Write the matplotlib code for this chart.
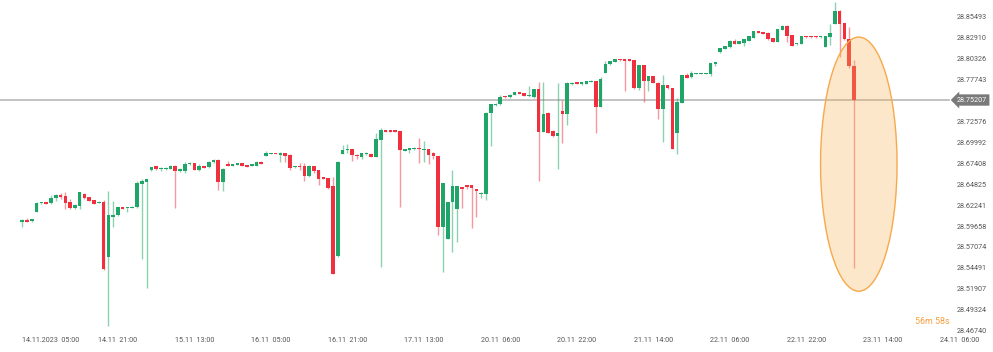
import numpy as np
import matplotlib
matplotlib.use("Agg")
import matplotlib.pyplot as plt
from matplotlib.patches import Ellipse
from matplotlib.transforms import ScaledTranslation, blended_transform_factory

plt.rcParams['font.family'] = ['Roboto', 'DejaVu Sans']

# ── Hourly candles ──────────────────────────────────────────────────────────
opens = [
    28.6012, 28.6040, 28.6028, 28.6143, 28.6246, 28.6262, 28.6246, 28.6308, 28.6349, 28.6336,
    28.6262, 28.6192, 28.6217, 28.6357, 28.6320, 28.6287, 28.6246, 28.6262, 28.5587, 28.6081,
    28.6098, 28.6197, 28.6184, 28.6188, 28.6197, 28.6481, 28.6505, 28.6657, 28.6707, 28.6666,
    28.6666, 28.6673, 28.6707, 28.6641, 28.6651, 28.6727, 28.6740, 28.6657, 28.6703, 28.6690,
    28.6752, 28.6784, 28.6513, 28.6731, 28.6710, 28.6722, 28.6744, 28.6719, 28.6710, 28.6707,
    28.6760, 28.6830, 28.6855, 28.6867, 28.6846, 28.6863, 28.6846, 28.6690, 28.6707, 28.6707,
    28.6587, 28.6707, 28.6653, 28.6567, 28.6559, 28.6456, 28.5592, 28.6855, 28.6900, 28.6916,
    28.6846, 28.6822, 28.6851, 28.6858, 28.6822, 28.7027, 28.7151, 28.7151, 28.7147, 28.7138,
    28.6895, 28.6904, 28.6913, 28.6933, 28.6904, 28.6913, 28.6863, 28.6830, 28.5950, 28.5802,
    28.6266, 28.6180, 28.6447, 28.6468, 28.6468, 28.6423, 28.6361, 28.6361, 28.7357, 28.7456,
    28.7468, 28.7567, 28.7554, 28.7583, 28.7616, 28.7604, 28.7567, 28.7554, 28.7660, 28.7130,
    28.7364, 28.7138, 28.7080, 28.7385, 28.7345, 28.7715, 28.7739, 28.7722, 28.7718, 28.7743,
    28.7755, 28.7438, 28.7858, 28.7962, 28.7990, 28.8027, 28.8023, 28.8023, 28.8011, 28.7669,
    28.7949, 28.7755, 28.7817, 28.7735, 28.7414, 28.7706, 28.7669, 28.7117, 28.7488, 28.7830,
    28.7801, 28.7846, 28.7846, 28.7846, 28.7838, 28.7965, 28.8110, 28.8150, 28.8171, 28.8249,
    28.8212, 28.8228, 28.8253, 28.8290, 28.8369, 28.8356, 28.8351, 28.8286, 28.8237, 28.8385,
    28.8430, 28.8323, 28.8208, 28.8216, 28.8311, 28.8311, 28.8311, 28.8295, 28.8179, 28.8302,
    28.8459, 28.8623, 28.8467, 28.8274, 28.7944,
]
highs = [
    28.6049, 28.6061, 28.6058, 28.6259, 28.6266, 28.6268, 28.6349, 28.6357, 28.6370, 28.6382,
    28.6296, 28.6234, 28.6389, 28.6377, 28.6324, 28.6293, 28.6278, 28.6287, 28.6402, 28.6275,
    28.6204, 28.6201, 28.6201, 28.6209, 28.6521, 28.6542, 28.6552, 28.6700, 28.6710, 28.6690,
    28.6690, 28.6713, 28.6713, 28.6676, 28.6752, 28.6750, 28.6744, 28.6731, 28.6707, 28.6764,
    28.6789, 28.6789, 28.6678, 28.6764, 28.6737, 28.6747, 28.6747, 28.6722, 28.6735, 28.6768,
    28.6764, 28.6892, 28.6871, 28.6871, 28.6876, 28.6867, 28.6851, 28.6710, 28.6740, 28.6740,
    28.6713, 28.6710, 28.6657, 28.6571, 28.6562, 28.6567, 28.6764, 28.6966, 28.6978, 28.6922,
    28.6851, 28.6867, 28.6883, 28.6863, 28.7117, 28.7172, 28.7155, 28.7155, 28.7151, 28.7142,
    28.6920, 28.6929, 28.6937, 28.7048, 28.7015, 28.6916, 28.6876, 28.6834, 28.6493, 28.6266,
    28.6657, 28.6463, 28.6451, 28.6472, 28.6472, 28.6426, 28.6390, 28.7369, 28.7472, 28.7478,
    28.7583, 28.7570, 28.7595, 28.7623, 28.7620, 28.7607, 28.7694, 28.7657, 28.7747, 28.7747,
    28.7369, 28.7151, 28.7727, 28.7521, 28.7739, 28.7739, 28.7743, 28.7747, 28.7759, 28.7762,
    28.7759, 28.7801, 28.8002, 28.8002, 28.8031, 28.8031, 28.8027, 28.8027, 28.8015, 28.7957,
    28.7953, 28.7821, 28.7821, 28.7739, 28.7830, 28.7710, 28.7673, 28.7549, 28.7833, 28.7858,
    28.7879, 28.7854, 28.7854, 28.7854, 28.7978, 28.7994, 28.8163, 28.8187, 28.8261, 28.8270,
    28.8249, 28.8277, 28.8314, 28.8372, 28.8372, 28.8360, 28.8356, 28.8290, 28.8397, 28.8447,
    28.8447, 28.8327, 28.8228, 28.8314, 28.8314, 28.8314, 28.8314, 28.8314, 28.8314, 28.8455,
    28.8734, 28.8628, 28.8471, 28.8426, 28.8015,
]
lows = [
    28.5957, 28.6015, 28.6015, 28.6139, 28.6234, 28.6238, 28.6238, 28.6278, 28.6296, 28.6180,
    28.6172, 28.6180, 28.6180, 28.6303, 28.6275, 28.6238, 28.6244, 28.5427, 28.4736, 28.5950,
    28.6090, 28.6176, 28.6135, 28.6184, 28.6192, 28.5555, 28.5201, 28.6651, 28.6661, 28.6649,
    28.6661, 28.6670, 28.6185, 28.6636, 28.6616, 28.6722, 28.6653, 28.6641, 28.6678, 28.6686,
    28.6747, 28.6410, 28.6402, 28.6707, 28.6707, 28.6719, 28.6703, 28.6694, 28.6706, 28.6703,
    28.6727, 28.6826, 28.6851, 28.6851, 28.6760, 28.6752, 28.6657, 28.6686, 28.6657, 28.6525,
    28.6575, 28.6616, 28.6468, 28.6546, 28.6426, 28.5374, 28.5587, 28.6851, 28.6863, 28.6764,
    28.6797, 28.6797, 28.6846, 28.6818, 28.6818, 28.5464, 28.7126, 28.7126, 28.7126, 28.6204,
    28.6892, 28.6871, 28.6908, 28.6740, 28.6760, 28.6731, 28.6797, 28.5855, 28.5402, 28.5802,
    28.5642, 28.5765, 28.6185, 28.6419, 28.5938, 28.6074, 28.6315, 28.6287, 28.6957, 28.7451,
    28.7463, 28.7549, 28.7546, 28.7579, 28.7595, 28.7570, 28.7562, 28.7549, 28.6525, 28.7126,
    28.7114, 28.7061, 28.6673, 28.6994, 28.7213, 28.7710, 28.7715, 28.7712, 28.7715, 28.7739,
    28.7117, 28.7435, 28.7854, 28.7957, 28.7986, 28.8006, 28.7636, 28.8002, 28.7657, 28.7644,
    28.7500, 28.7636, 28.7731, 28.7287, 28.7006, 28.7660, 28.6913, 28.6851, 28.7484, 28.7792,
    28.7796, 28.7842, 28.7842, 28.7842, 28.7817, 28.7941, 28.8097, 28.8147, 28.8166, 28.8212,
    28.8208, 28.8191, 28.8249, 28.8286, 28.8344, 28.8335, 28.8265, 28.8233, 28.8233, 28.8381,
    28.8240, 28.8187, 28.8203, 28.8212, 28.8290, 28.8290, 28.8290, 28.8290, 28.8175, 28.8200,
    28.8455, 28.8055, 28.8261, 28.7920, 28.5444,
]
closes = [
    28.6040, 28.6019, 28.6052, 28.6254, 28.6262, 28.6241, 28.6315, 28.6349, 28.6328, 28.6254,
    28.6192, 28.6225, 28.6382, 28.6315, 28.6278, 28.6241, 28.6262, 28.5432, 28.6098, 28.6102,
    28.6197, 28.6180, 28.6197, 28.6204, 28.6497, 28.6525, 28.6542, 28.6690, 28.6666, 28.6682,
    28.6682, 28.6707, 28.6641, 28.6670, 28.6731, 28.6744, 28.6657, 28.6707, 28.6686, 28.6760,
    28.6784, 28.6513, 28.6670, 28.6710, 28.6731, 28.6744, 28.6707, 28.6698, 28.6731, 28.6760,
    28.6735, 28.6871, 28.6867, 28.6855, 28.6863, 28.6830, 28.6686, 28.6707, 28.6690, 28.6587,
    28.6707, 28.6649, 28.6550, 28.6550, 28.6431, 28.5378, 28.6760, 28.6904, 28.6920, 28.6842,
    28.6826, 28.6863, 28.6867, 28.6822, 28.7040, 28.7151, 28.7130, 28.7130, 28.7130, 28.6904,
    28.6916, 28.6925, 28.6933, 28.6913, 28.6920, 28.6842, 28.6830, 28.5950, 28.6493, 28.6262,
    28.6460, 28.6460, 28.6423, 28.6447, 28.6435, 28.6398, 28.6373, 28.7364, 28.7468, 28.7472,
    28.7558, 28.7554, 28.7583, 28.7616, 28.7599, 28.7574, 28.7583, 28.7653, 28.7130, 28.7348,
    28.7117, 28.7080, 28.7110, 28.7345, 28.7735, 28.7735, 28.7718, 28.7743, 28.7755, 28.7755,
    28.7438, 28.7776, 28.7962, 28.7999, 28.8027, 28.8011, 28.8006, 28.8006, 28.7669, 28.7953,
    28.7759, 28.7817, 28.7734, 28.7414, 28.7706, 28.7665, 28.6920, 28.7500, 28.7830, 28.7796,
    28.7850, 28.7850, 28.7850, 28.7850, 28.7974, 28.7990, 28.8159, 28.8184, 28.8245, 28.8216,
    28.8245, 28.8274, 28.8311, 28.8369, 28.8348, 28.8339, 28.8270, 28.8237, 28.8393, 28.8430,
    28.8314, 28.8191, 28.8224, 28.8311, 28.8295, 28.8295, 28.8295, 28.8311, 28.8311, 28.8348,
    28.8623, 28.8459, 28.8274, 28.7941, 28.7521,
]

# ── Axis labels ─────────────────────────────────────────────────────────────
time_tick_idx = [4, 20, 36, 52, 68, 84, 100, 116, 132, 148, 164, 180, 196]
time_labels = ["14.11.2023  05:00", "14.11  21:00", "15.11  13:00", "16.11  05:00",
               "16.11  21:00", "17.11  13:00", "20.11  06:00", "20.11  22:00",
               "21.11  14:00", "22.11  06:00", "22.11  22:00", "23.11  14:00",
               "24.11  06:00"]
price_ticks = [28.85493, 28.82910, 28.80326, 28.77743, 28.72576, 28.69992, 28.67408,
               28.64825, 28.62241, 28.59658, 28.57074, 28.54491, 28.51907, 28.49324,
               28.46740]
last_price = 28.75207
countdown = "56m 58s"

# ── Plotting ────────────────────────────────────────────────────────────────
o = np.array(opens); h = np.array(highs); l = np.array(lows); c = np.array(closes)
n = len(o)
x = np.arange(n)

GREEN = "#1ea567"
RED = "#f0303e"
cols = np.where(c >= o, GREEN, RED)

W, H = 993, 352
fig = plt.figure(figsize=(W / 100, H / 100), dpi=100)
ax = fig.add_axes([0, 1 - 335 / H, 1, 335 / H])

ax.vlines(x, l, h, colors=cols, alpha=0.5, linewidth=1, zorder=1)
body = np.maximum(np.abs(c - o), 0.0011)
ax.bar(x, body, bottom=np.minimum(o, c), width=0.76, color=cols,
       linewidth=0, zorder=2)

# last price line + tag
ax.axhline(last_price, xmin=0, xmax=949 / W, color="#b8b8b8", linewidth=1.2, zorder=0)
trans = blended_transform_factory(ax.transAxes, ax.transData)
ax.text(957 / W, last_price, f"{last_price:.5f}", transform=trans, ha="left",
        va="center", fontsize=5.2, color="white", zorder=5,
        bbox=dict(boxstyle="larrow,pad=0.3", fc="#7a7a7a", ec="none"))

# highlight around the last candle
span = h[-1] - l[-1]
ell = Ellipse((n - 1 + 1.0, (h[-1] + l[-1]) / 2), 16, span * 1.22,
              facecolor=(0.973, 0.698, 0.333, 0.3), edgecolor="#f6a94a",
              linewidth=1, zorder=4)
ax.add_patch(ell)

fig.text(950 / W, 1 - 321 / H, countdown, ha="right", va="center",
         fontsize=6.4, color="#f5a040")

# axes setup
ax.set_xlim((0 - 22.3) / 4.78, (W - 22.3) / 4.78)
ax.set_ylim(28.8755 - 0.001234 * 335, 28.8755)
for s in ax.spines.values():
    s.set_visible(False)

ax.set_xticks(time_tick_idx)
ax.set_xticklabels(time_labels)
ax.tick_params(axis="x", length=0, pad=1.8, labelsize=5.2, labelcolor="#555555")
first = ax.get_xticklabels()[0]
first.set_transform(first.get_transform() + ScaledTranslation(9.6 / 100, 0, fig.dpi_scale_trans))

ax.yaxis.tick_right()
ax.set_yticks(price_ticks)
ax.set_yticklabels([f"{p:.5f}" for p in price_ticks])
ax.tick_params(axis="y", length=0, pad=-(W - 957) * 0.72, labelsize=5.2,
               labelcolor="#555555")

fig.savefig("out.png", dpi=100, facecolor="white")
